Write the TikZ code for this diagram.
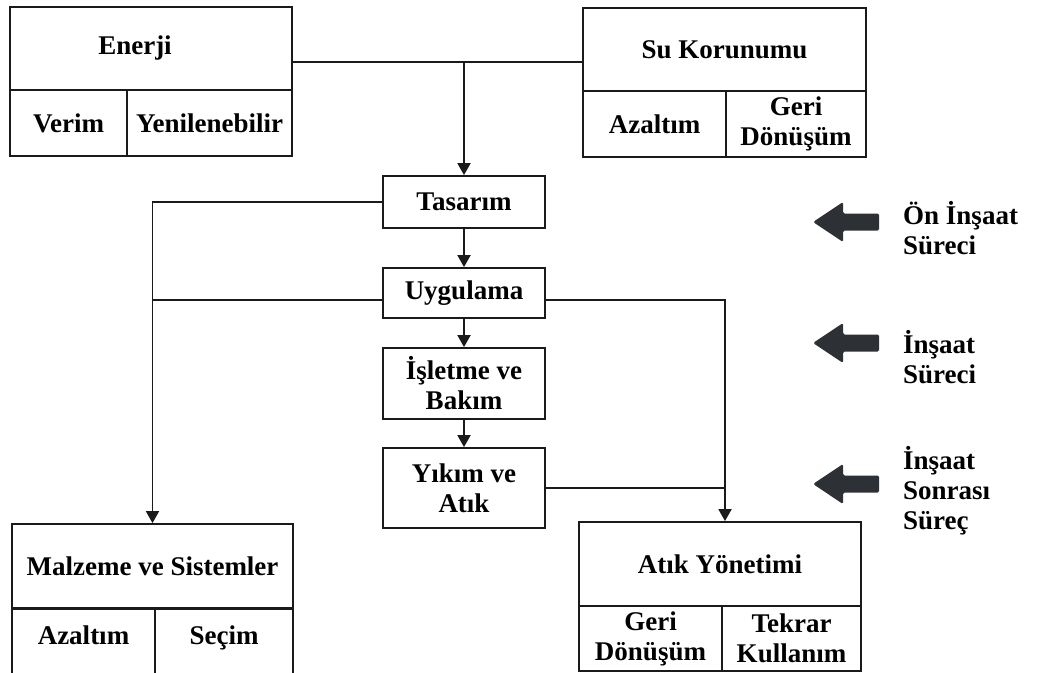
\documentclass[tikz,border=0pt]{standalone}
\usepackage{fontspec}
\setmainfont{Liberation Serif}
\usetikzlibrary{arrows.meta,calc}
\definecolor{arrowc}{HTML}{2D3035}
\definecolor{linec}{HTML}{1A1A1A}
\tikzset{
  box/.style={draw=linec, line width=1.8pt, inner sep=0pt, align=center,
    font=\fontsize{27}{30}\selectfont\bfseries},
  lab/.style={inner sep=0pt, align=left, anchor=west,
    font=\fontsize{27}{30}\selectfont\bfseries},
  ln/.style={draw=linec, line width=1.8pt},
  arr/.style={draw=linec, line width=1.8pt, -{Triangle[width=13pt,length=12pt]}},
}
\begin{document}
\begin{tikzpicture}[x=1pt,y=-1pt]
\useasboundingbox (0,0) rectangle (1040,672);
\clip (0,0) rectangle (1040,672);
% Enerji
\node[box, minimum width=282, minimum height=83] (enT) at (151,48.5) {\hspace*{-32pt}Enerji};
\node[box, minimum width=117, minimum height=66] (enA) at (68.5,123) {Verim};
\node[box, minimum width=165, minimum height=66] (enB) at (209.5,123) {Yenilenebilir};
% Su Korunumu
\node[box, minimum width=283, minimum height=83] (suT) at (724.5,49.5) {Su Korunumu};
\node[box, minimum width=143, minimum height=66] (suA) at (654.5,124) {Azaltım};
\node[box, minimum width=140, minimum height=66] (suB) at (796,124) {Geri\\Dönüşüm};
% central chain
\node[box, minimum width=162, minimum height=52] (tas) at (464,202) {Tasarım};
\node[box, minimum width=162, minimum height=50] (uyg) at (464,293) {Uygulama};
\node[box, minimum width=162, minimum height=71] (isl) at (464,383.5) {İşletme ve\\Bakım};
\node[box, minimum width=162, minimum height=80] (yik) at (464,488) {Yıkım ve\\Atık};
% Malzeme ve Sistemler
\node[box, minimum width=281, minimum height=84] (malT) at (152.5,566) {Malzeme ve Sistemler};
\node[box, minimum width=143, text height=36pt, text depth=46pt, anchor=north] (malA) at (83.5,608) {Azaltım};
\node[box, minimum width=138, text height=36pt, text depth=46pt, anchor=north] (malB) at (224,608) {Seçim};
% Atik Yonetimi
\node[box, minimum width=282, minimum height=84] (atkT) at (720,564) {Atık Yönetimi};
\node[box, minimum width=143, minimum height=65] (atkA) at (650.5,638.5) {Geri\\Dönüşüm};
\node[box, minimum width=139, minimum height=65] (atkB) at (791.5,638.5) {Tekrar\\Kullanım};
% connectors
\coordinate (j1) at (tas.north |- 0,62);
\draw[ln] ([yshift=-13.5pt]enT.east) -- ([yshift=-12.5pt]suT.west);
\draw[arr] (j1) -- (tas.north);
\draw[arr] (tas.south) -- (uyg.north);
\draw[arr] (uyg.south) -- (isl.north);
\draw[arr] (isl.south) -- (yik.north);
\draw[arr] (tas.west) -| (malT.north);
\coordinate (ul) at ([yshift=-7pt]uyg.west);
\draw[ln] (ul) -- (ul -| malT.north);
\coordinate (ur) at ([yshift=-7pt]uyg.east);
\coordinate (atin) at ([xshift=5pt]atkT.north);
\draw[arr] (ur) -| (atin);
\draw[ln] (yik.east) -- (yik.east -| atin);
% phase arrows
\foreach \y in {222,343,484}{
  \fill[arrowc, rounded corners=1.5pt] (813,\y) -- (843,\y-20) -- (843,\y-8.5) -- (879,\y-8.5)
    -- (879,\y+8.5) -- (843,\y+8.5) -- (843,\y+20) -- cycle;
}
\node[lab] (l1) at (903,228) {Ön İnşaat\\Süreci};
\node[lab] (l2) at (903,357) {İnşaat\\Süreci};
\node[lab] (l3) at (903,491) {İnşaat\\Sonrası\\Süreç};
\end{tikzpicture}
\end{document}
